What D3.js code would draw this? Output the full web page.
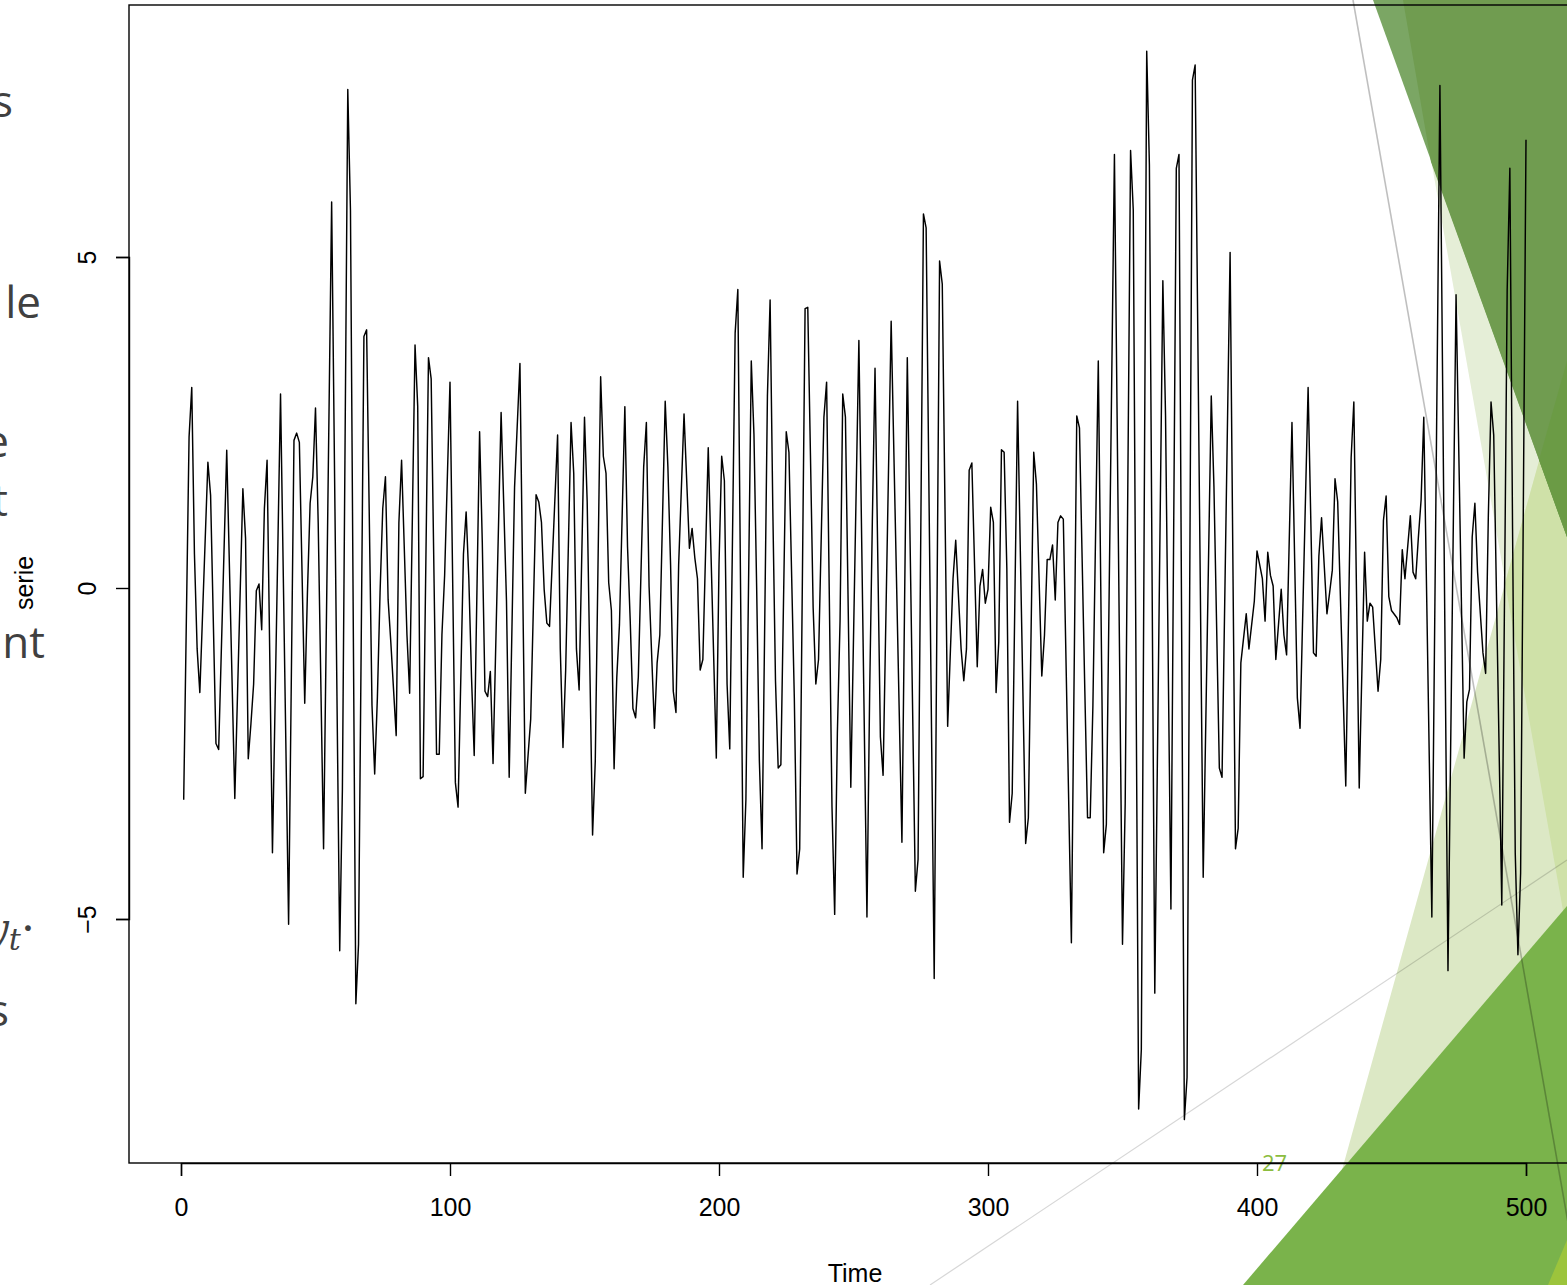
<!DOCTYPE html>
<html>
<head>
<meta charset="utf-8">
<script src="https://cdn.jsdelivr.net/npm/d3@7"></script>
<style>
  html, body { margin: 0; padding: 0; background: #ffffff; }
  svg { display: block; }
</style>
</head>
<body>
<script>
// Time index of each turning point of the series and its value.
const time = [1,3,4,5,6,7,10,11,13,14,17,20,23,24,25,26,27,28,29,30,31,32,34,37,40,42,43,44,46,47,48,49,50,51,53,56,59,60,62,63,65,66,68,69,71,72,73,74,75,76,77,78,80,81,82,84,85,87,88,89,90,92,93,95,96,97,98,100,
  102,103,105,106,107,108,109,111,112,113,114,115,116,119,121,122,124,126,128,130,132,133,134,135,136,137,140,141,142,143,145,146,147,148,150,151,153,154,156,157,158,159,160,161,162,163,165,166,167,168,169,170,172,173,174,176,177,178,180,181,182,183,184,185,187,189,190,191,192,193,194,196,197,199,200,
  201,202,203,204,206,207,209,210,212,213,214,215,216,218,219,220,221,222,223,225,226,228,229,230,232,233,234,235,236,237,239,240,241,242,243,244,245,246,247,249,252,255,256,257,258,260,261,264,268,270,273,274,276,277,280,282,283,285,287,288,290,291,292,293,294,296,297,298,299,300,
  301,302,303,304,305,306,307,308,309,311,314,315,317,318,320,321,322,323,324,325,326,327,328,331,333,334,336,337,338,339,341,343,344,347,350,351,353,354,356,357,359,360,362,363,365,366,368,370,371,373,374,376,377,380,383,384,386,387,390,392,393,394,396,397,399,400,
  402,403,404,405,406,407,409,410,411,413,415,416,419,421,422,423,424,426,427,428,429,430,433,435,436,438,440,441,442,443,445,446,447,448,449,450,452,453,454,455,457,458,459,460,461,462,465,468,471,474,477,478,479,480,481,482,484,485,486,487,488,491,492,493,494,495,496,497,498,499,500];

const serie = [-3.20,2.28,3.03,0.51,-0.92,-1.58,1.90,1.40,-2.35,-2.44,2.08,-3.18,1.50,0.75,-2.58,-2.05,-1.45,-0.04,0.06,-0.63,1.20,1.93,-4.00,2.93,-5.08,2.23,2.34,2.20,-1.74,-0.07,1.28,1.68,2.72,0.99,-3.94,5.83,-5.48,-3.04,7.53,5.70,-6.28,-5.38,3.80,3.90,-1.77,-2.81,-1.66,-0.07,1.20,1.68,-0.18,-0.82,-2.23,0.99,1.93,-0.71,-1.59,3.67,2.74,-2.88,-2.85,3.48,3.16,-2.51,-2.51,-0.71,0.19,3.11,
  -2.94,-3.31,0.51,1.15,0.14,-1.35,-2.53,2.36,0.70,-1.56,-1.64,-1.26,-2.65,2.65,-0.20,-2.86,1.52,3.39,-3.10,-1.98,1.41,1.30,0.99,-0.02,-0.53,-0.58,2.31,-0.92,-2.41,-1.24,2.50,1.73,-0.92,-1.54,2.58,1.30,-3.73,-2.62,3.19,1.99,1.73,0.08,-0.34,-2.73,-1.35,-0.55,2.74,0.62,-0.50,-1.82,-1.96,-1.35,1.83,2.50,0.03,-2.12,-1.13,-0.71,2.82,1.83,0.35,-1.56,-1.88,0.35,2.63,0.60,0.90,0.46,0.14,-1.24,-1.08,2.12,0.56,-2.57,0.35,
  1.99,1.62,-1.45,-2.43,3.85,4.51,-4.37,-3.20,3.43,2.31,0.00,-2.60,-3.94,2.90,4.35,1.20,-1.40,-2.72,-2.67,2.36,2.05,-1.66,-4.32,-3.94,4.22,4.24,2.00,-0.30,-1.45,-1.08,2.58,3.11,-0.10,-3.30,-4.93,-2.20,-0.50,2.93,2.58,-3.01,3.74,-4.97,-1.60,1.00,3.32,-2.25,-2.83,4.03,-3.84,3.48,-4.58,-4.10,5.65,5.44,-5.90,4.94,4.59,-2.09,0.14,0.72,-0.92,-1.40,-0.92,1.78,1.89,-1.19,0.03,0.28,-0.23,-0.02,
  1.22,0.99,-1.58,-0.82,2.09,2.05,0.30,-3.54,-3.10,2.82,-3.86,-3.47,2.05,1.57,-1.33,-0.71,0.43,0.43,0.65,-0.18,0.99,1.09,1.04,-5.36,2.60,2.42,-1.56,-3.47,-3.47,-1.77,3.43,-4.00,-3.57,6.55,-5.38,-3.26,6.61,5.71,-7.87,-6.97,8.11,6.39,-6.12,-2.50,4.64,2.60,-4.85,6.34,6.55,-8.03,-7.39,7.67,7.90,-4.37,2.90,1.52,-2.72,-2.86,5.07,-3.94,-3.63,-1.13,-0.39,-0.92,-0.20,0.56,
  0.14,-0.50,0.54,0.19,0.03,-1.08,-0.02,-0.71,-1.01,2.50,-1.66,-2.12,3.03,-0.98,-1.03,0.48,1.06,-0.39,-0.07,0.27,1.65,1.30,-2.99,1.97,2.81,-3.02,0.54,-0.50,-0.23,-0.29,-1.56,-1.08,1.02,1.39,-0.13,-0.34,-0.45,-0.55,0.58,0.14,1.09,0.24,0.14,0.77,1.33,2.58,-4.97,7.59,-5.78,4.43,-2.57,-1.72,-1.53,0.77,1.28,0.24,-0.98,-1.29,1.09,2.81,2.31,-4.79,-0.20,4.50,6.34,0.90,-4.00,-5.54,-4.30,1.20,6.77];

const xTicks = [0, 100, 200, 300, 400, 500];
const yTicks = [-5, 0, 5];
const xTitle = "Time";
const yTitle = "serie";

// Fragments of slide text showing at the left edge.
const sideText = [
  { txt: "s",  x: 13, y: 117 },
  { txt: "le", x: 41, y: 318 },
  { txt: "e",  x: 9,  y: 457 },
  { txt: "t",  x: 8,  y: 516 },
  { txt: "nt", x: 45, y: 658 },
  { txt: "s",  x: 9,  y: 1026 }
];

const W = 1567, H = 1285;
const svg = d3.select("body").append("svg")
  .attr("width", W).attr("height", H)
  .attr("viewBox", `0 0 ${W} ${H}`);

svg.append("rect").attr("width", W).attr("height", H).attr("fill", "#ffffff");

// Slide decoration: green facets on the right.
const deco = svg.append("g");
const poly = (pts, fill) => deco.append("polygon")
  .attr("points", pts.map(p => p.join(",")).join(" "))
  .attr("fill", fill);
poly([[1403,0],[1567,0],[1567,933]], "#e5eed7");
poly([[1310,1285],[1567,361],[1567,1285]], "#dce8c5");
poly([[1505,583],[1567,361],[1567,933]], "#cfe1a8");
poly([[1373,0],[1567,0],[1567,537]], "#7ba664");
poly([[1403,0],[1567,0],[1567,537],[1431,162]], "#709c50");
poly([[1539,460],[1567,361],[1567,537]], "#6b9b45");
poly([[1243,1285],[1567,906],[1567,1285]], "#7ab34b");
poly([[1548,1285],[1567,1240],[1567,1285]], "#9cc43c");

deco.append("line").attr("x1", 1353).attr("y1", 0).attr("x2", 1579).attr("y2", 1285)
  .attr("stroke", "#000").attr("stroke-opacity", 0.25).attr("stroke-width", 1.6);
deco.append("line").attr("x1", 930).attr("y1", 1285).attr("x2", 1567).attr("y2", 860)
  .attr("stroke", "#000").attr("stroke-opacity", 0.16).attr("stroke-width", 1.2);

deco.append("text").attr("x", 1262).attr("y", 1171)
  .attr("font-family", "'Open Sans', 'DejaVu Sans', sans-serif")
  .attr("font-size", 22).attr("fill", "#8cbd3f").text("27");

// Slide body text cut off at the left edge.
const side = svg.append("g")
  .attr("font-family", "'Open Sans', 'DejaVu Sans', sans-serif")
  .attr("font-size", 44).attr("fill", "#404040");
side.selectAll("text").data(sideText).join("text")
  .attr("x", d => d.x).attr("y", d => d.y)
  .attr("text-anchor", "end").text(d => d.txt);

const mathT = side.append("text").attr("y", 944)
  .attr("font-family", "'DejaVu Serif', 'Liberation Serif', serif");
mathT.append("tspan").attr("x", -16).attr("font-style", "italic").text("y");
mathT.append("tspan").attr("font-style", "italic").attr("font-size", 30).attr("dy", 6).text("t");
mathT.append("tspan").attr("dy", -6).text("·");

// Scales
const x = d3.scaleLinear().domain([0, 500]).range([181, 1526]);
const y = d3.scaleLinear().domain([-5, 5]).range([919, 257]);

const plotLeft = 129, plotTop = 5, plotBottom = 1163;

// Series line
const pts = time.map((t, i) => [t, serie[i]]);
svg.append("path")
  .datum(pts)
  .attr("fill", "none")
  .attr("stroke", "#000")
  .attr("stroke-width", 1.45)
  .attr("stroke-linejoin", "round")
  .attr("d", d3.line().x(d => x(d[0])).y(d => y(d[1])));

// Plot frame
svg.append("rect")
  .attr("x", plotLeft).attr("y", plotTop)
  .attr("width", 1600 - plotLeft).attr("height", plotBottom - plotTop)
  .attr("fill", "none").attr("stroke", "#000").attr("stroke-width", 1.4);

const font = "'Liberation Sans', Arial, Helvetica, sans-serif";

// Bottom axis
const xAxis = svg.append("g")
  .attr("transform", `translate(0,${plotBottom})`)
  .call(d3.axisBottom(x).tickValues(xTicks).tickSize(13).tickPadding(22).tickFormat(d3.format("d")));
xAxis.select(".domain").attr("stroke-width", 1.4);
xAxis.selectAll(".tick line").attr("stroke-width", 1.4);
xAxis.selectAll(".tick text").attr("font-family", font).attr("font-size", 25).attr("fill", "#000");

// Left axis with labels parallel to it
const yAxis = svg.append("g")
  .attr("transform", `translate(${plotLeft},0)`)
  .call(d3.axisLeft(y).tickValues(yTicks).tickSize(13).tickFormat(d3.format("d")));
yAxis.select(".domain").attr("stroke-width", 1.4);
yAxis.selectAll(".tick line").attr("stroke-width", 1.4);
yAxis.selectAll(".tick text")
  .attr("font-family", font).attr("font-size", 25).attr("fill", "#000")
  .attr("x", null).attr("dy", null)
  .attr("text-anchor", "middle")
  .attr("transform", "translate(-33,0) rotate(-90)");

// Axis titles
svg.append("text").attr("x", 855).attr("y", 1282)
  .attr("text-anchor", "middle").attr("font-family", font).attr("font-size", 25)
  .text(xTitle);
svg.append("text")
  .attr("transform", "translate(33,583) rotate(-90)")
  .attr("text-anchor", "middle").attr("font-family", font).attr("font-size", 25)
  .text(yTitle);
</script>
</body>
</html>
